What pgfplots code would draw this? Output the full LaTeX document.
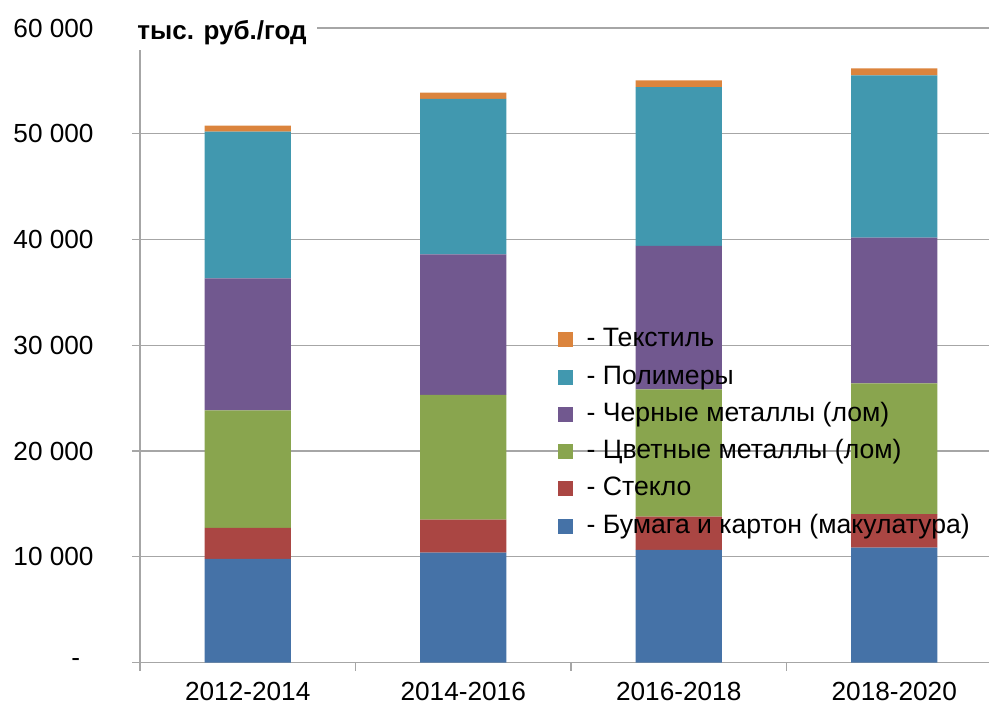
\documentclass[border=0pt]{standalone}
\usepackage{fontspec}
\setmainfont{Liberation Sans}
\usepackage{pgfplots}
\usepackage{pgfplotstable}
\pgfplotsset{compat=1.18}
\newlength\px \setlength\px{0.5pt}
\definecolor{cBlue}{HTML}{4572A7}
\definecolor{cRed}{HTML}{AA4643}
\definecolor{cGreen}{HTML}{89A54E}
\definecolor{cPurple}{HTML}{71588F}
\definecolor{cTeal}{HTML}{4198AF}
\definecolor{cOrange}{HTML}{DB843D}
\definecolor{cGrid}{HTML}{A6A6A6}
\newcommand\chartfont{\fontsize{13.1}{15}\selectfont}
\newcommand\legfont{\fontsize{13.3}{15}\selectfont}
\pgfplotsset{myleg/.style={legend image code/.code={\fill[##1] (0pt,-10\px) rectangle (15\px,5\px);}}}
\pgfplotstableread{
x paper glass nonferrous ferrous polymers textile
0 9790 2930 11130 12480 13860 570
1 10380 3120 11800 13300 14690 590
2 10640 3150 12040 13560 15030 630
3 10860 3180 12360 13770 15360 660
}\datatable
\begin{document}
\begin{tikzpicture}
\path[use as bounding box] (0,0) rectangle (989\px,703\px);
\begin{axis}[
 at={(140\px,40.5\px)}, anchor=south west,
 scale only axis, width=849\px, height=634.5\px,
 xmin=-0.5, xmax=3.4397, ymin=0, ymax=60000,
 ybar stacked, bar width=0.4,
 axis lines*=left,
 axis line style={draw=cGrid, line width=1.3\px},
 ytick={0,10000,20000,30000,40000,50000,60000},
 yticklabels={\mbox{-\rule{13.5\px}{0pt}},10~000,20~000,30~000,40~000,50~000,60~000},
 ymajorgrids, grid style={draw=cGrid, line width=1.3\px},
 xtick={-0.5,0.5,1.5,2.5},
 xticklabels={},
 extra x ticks={0,1,2,3},
 extra x tick labels={2012-2014,2014-2016,2016-2018,2018-2020},
 extra x tick style={major tick length=0pt, grid=none},
 tick align=outside, major tick length=8\px,
 tick style={draw=cGrid, line width=1.3\px},
 tick label style={font=\chartfont},
 yticklabel style={inner sep=0pt, xshift=-38\px},
 xticklabel style={inner sep=0pt, yshift=-19\px},
 scaled y ticks=false,
 legend cell align=left,
 reverse legend,
 legend style={draw=none, fill=none, at={(axis cs:1.4397,32525)}, anchor=north west,
   inner sep=0pt, outer sep=0pt, column sep=13.7\px, row sep=0pt, font=\legfont,
   nodes={inner sep=0pt, text height=28.15\px, text depth=9.15\px}},
 clip=false,
]
\addplot[fill=cBlue, draw=none, myleg] table[x=x, y=paper] {\datatable};
\addlegendentry{- Бумага и картон (макулатура)}
\addplot[fill=cRed, draw=none, myleg] table[x=x, y=glass] {\datatable};
\addlegendentry{- Стекло}
\addplot[fill=cGreen, draw=none, myleg] table[x=x, y=nonferrous] {\datatable};
\addlegendentry{- Цветные металлы (лом)}
\addplot[fill=cPurple, draw=none, myleg] table[x=x, y=ferrous] {\datatable};
\addlegendentry{- Черные металлы (лом)}
\addplot[fill=cTeal, draw=none, myleg] table[x=x, y=polymers] {\datatable};
\addlegendentry{- Полимеры}
\addplot[fill=cOrange, draw=none, myleg] table[x=x, y=textile] {\datatable};
\addlegendentry{- Текстиль}
\end{axis}
\node[fill=white, inner xsep=10\px, inner ysep=0pt, text depth=10.7\px, anchor=base west,
  font=\bfseries\fontsize{13}{15}\selectfont] at (127\px,663.7\px) {тыс. руб./год};
\end{tikzpicture}
\end{document}
